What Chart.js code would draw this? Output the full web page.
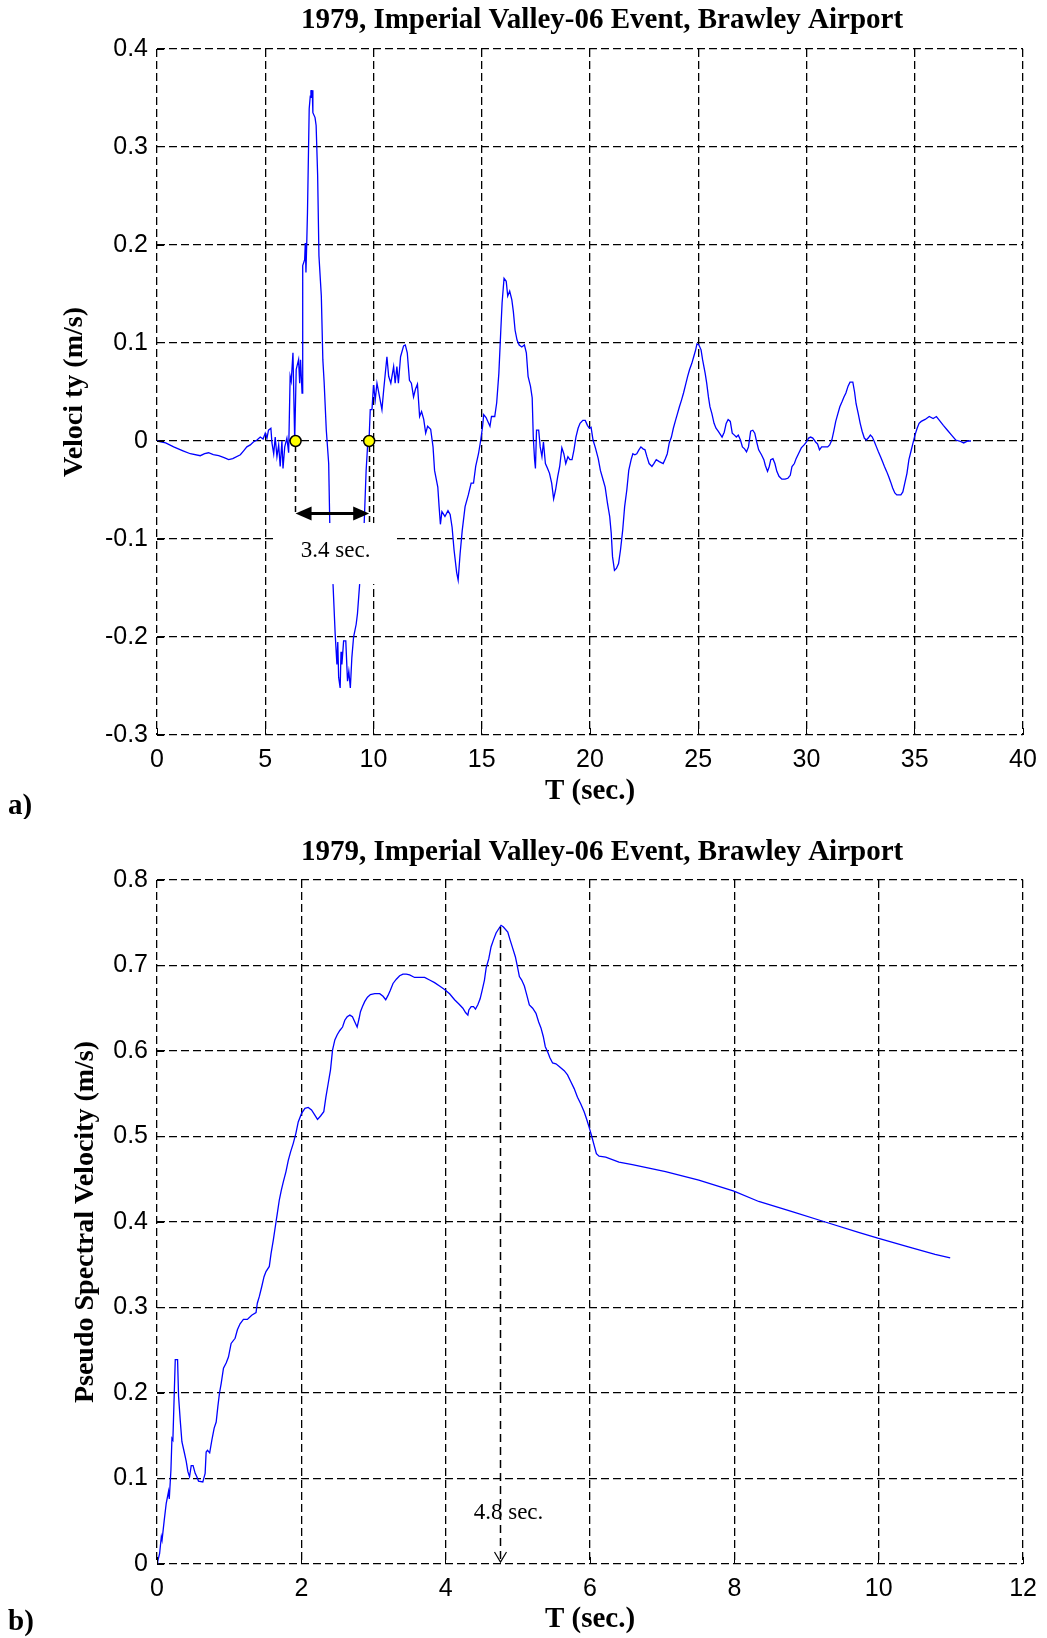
<!DOCTYPE html>
<html>
<head>
<meta charset="utf-8">
<title>Imperial Valley-06, Brawley Airport</title>
<script src="https://cdn.jsdelivr.net/npm/chart.js@4.4.1/dist/chart.umd.min.js"></script>
<style>
  body { margin: 0; background: #fff; }
  #page { position: relative; width: 1047px; height: 1638px; }
  canvas { position: absolute; left: 0; }
  #velChart { top: 0; }
  #psvChart { top: 819px; }
</style>
</head>
<body>
<div id="page">
  <canvas id="velChart" width="1047" height="819"></canvas>
  <canvas id="psvChart" width="1047" height="819"></canvas>
</div>
<script>
const eventTitle = "1979, Imperial Valley-06 Event, Brawley Airport";

// ground velocity record: time (s) / velocity (m/s)
const timeSec = [
  0, 0.4, 0.77, 1.2, 1.54, 2.0, 2.2, 2.38, 2.6, 2.85,
  3.1, 3.31, 3.5, 3.85, 4.0, 4.15, 4.31, 4.45, 4.62, 4.77,
  4.9, 5.0, 5.08, 5.15, 5.26, 5.31, 5.39, 5.46, 5.54, 5.62,
  5.69, 5.77, 5.82, 5.9, 6.0, 6.08, 6.15, 6.2, 6.28, 6.36,
  6.43, 6.54, 6.59, 6.63, 6.7, 6.72, 6.74, 6.82, 6.85, 6.88,
  6.92, 6.95, 7.03, 7.08, 7.11, 7.14, 7.17, 7.2, 7.3, 7.35,
  7.42, 7.48, 7.59, 7.66, 7.72, 7.82, 7.93, 7.98, 8.05, 8.13,
  8.23, 8.31, 8.35, 8.39, 8.46, 8.5, 8.54, 8.62, 8.72, 8.8,
  8.86, 8.93, 9.0, 9.08, 9.2, 9.26, 9.36, 9.45, 9.57, 9.66,
  9.74, 9.8, 9.85, 9.93, 10.0, 10.08, 10.16, 10.28, 10.39, 10.47,
  10.62, 10.7, 10.8, 10.93, 11.0, 11.08, 11.15, 11.25, 11.39, 11.47,
  11.56, 11.66, 11.75, 11.85, 11.94, 12.03, 12.13, 12.22, 12.32, 12.41,
  12.5, 12.64, 12.75, 12.82, 12.97, 13.03, 13.09, 13.16, 13.3, 13.44,
  13.54, 13.63, 13.72, 13.84, 13.91, 14.0, 14.1, 14.23, 14.38, 14.51,
  14.62, 14.72, 14.85, 14.94, 15.04, 15.09, 15.2, 15.38, 15.45, 15.6,
  15.69, 15.79, 15.88, 15.94, 16.03, 16.13, 16.2, 16.29, 16.39, 16.46,
  16.54, 16.63, 16.73, 16.85, 16.97, 17.06, 17.14, 17.25, 17.33, 17.38,
  17.44, 17.48, 17.53, 17.63, 17.7, 17.78, 17.85, 17.94, 18.04, 18.13,
  18.23, 18.32, 18.41, 18.51, 18.6, 18.7, 18.79, 18.88, 18.98, 19.07,
  19.17, 19.26, 19.35, 19.45, 19.54, 19.67, 19.78, 19.88, 19.97, 20.05,
  20.14, 20.25, 20.38, 20.48, 20.61, 20.7, 20.81, 20.91, 20.98, 21.04,
  21.13, 21.22, 21.32, 21.41, 21.51, 21.6, 21.7, 21.79, 21.9, 21.98,
  22.07, 22.16, 22.26, 22.35, 22.45, 22.54, 22.63, 22.73, 22.86, 22.95,
  23.06, 23.2, 23.38, 23.48, 23.57, 23.66, 23.76, 23.85, 23.95, 24.04,
  24.13, 24.23, 24.32, 24.41, 24.51, 24.6, 24.7, 24.79, 24.88, 24.94,
  25.03, 25.13, 25.2, 25.32, 25.39, 25.47, 25.54, 25.63, 25.73, 25.82,
  25.92, 26.1, 26.2, 26.29, 26.38, 26.48, 26.57, 26.67, 26.76, 26.85,
  26.95, 27.04, 27.14, 27.23, 27.32, 27.42, 27.52, 27.61, 27.7, 27.79,
  27.92, 28.03, 28.1, 28.2, 28.28, 28.35, 28.45, 28.54, 28.63, 28.73,
  28.86, 29.01, 29.14, 29.25, 29.33, 29.44, 29.52, 29.63, 29.76, 29.89,
  30.0, 30.1, 30.19, 30.29, 30.42, 30.51, 30.6, 30.7, 30.79, 30.98,
  31.07, 31.17, 31.26, 31.35, 31.45, 31.54, 31.64, 31.73, 31.82, 31.92,
  32.01, 32.14, 32.22, 32.29, 32.39, 32.48, 32.57, 32.67, 32.76, 32.85,
  32.95, 33.04, 33.14, 33.23, 33.32, 33.42, 33.51, 33.6, 33.7, 33.79,
  33.89, 33.98, 34.08, 34.17, 34.36, 34.45, 34.54, 34.64, 34.73, 34.82,
  34.92, 35.01, 35.11, 35.2, 35.3, 35.48, 35.67, 35.85, 36.0, 36.14,
  36.32, 36.51, 36.7, 36.89, 37.07, 37.26, 37.45, 37.6
];
const velocity = [
  0, -0.002, -0.006, -0.010, -0.013, -0.015, -0.013, -0.012, -0.014, -0.015,
  -0.017, -0.019, -0.018, -0.014, -0.010, -0.006, -0.004, -0.001, 0.001, 0.004,
  0.002, 0.008, 0.003, 0.011, 0.013, -0.002, -0.013, 0.004, -0.016, -0.004,
  -0.026, 0.000, -0.028, -0.006, 0.003, -0.012, 0.066, 0.061, 0.090, 0.000,
  0.073, 0.083, 0.059, 0.083, 0.049, 0.120, 0.179, 0.185, 0.202, 0.172,
  0.205, 0.233, 0.339, 0.352, 0.358, 0.350, 0.358, 0.335, 0.330, 0.322,
  0.271, 0.189, 0.148, 0.083, 0.060, 0.011, -0.023, -0.084, -0.120, -0.146,
  -0.197, -0.228, -0.205, -0.241, -0.252, -0.215, -0.228, -0.204, -0.204, -0.245,
  -0.235, -0.252, -0.221, -0.200, -0.187, -0.176, -0.146, -0.120, -0.084, -0.030,
  0.000, 0.004, 0.032, 0.032, 0.057, 0.042, 0.059, 0.045, 0.032, 0.052,
  0.086, 0.066, 0.059, 0.076, 0.059, 0.076, 0.059, 0.086, 0.097, 0.098,
  0.090, 0.062, 0.059, 0.045, 0.053, 0.058, 0.025, 0.030, 0.022, 0.008,
  0.015, 0.012, -0.006, -0.030, -0.047, -0.067, -0.085, -0.072, -0.077, -0.071,
  -0.075, -0.088, -0.111, -0.134, -0.142, -0.115, -0.091, -0.067, -0.055, -0.043,
  -0.043, -0.026, -0.013, -0.001, 0.015, 0.027, 0.024, 0.015, 0.025, 0.025,
  0.039, 0.069, 0.113, 0.141, 0.166, 0.163, 0.148, 0.153, 0.144, 0.132,
  0.113, 0.103, 0.098, 0.096, 0.098, 0.090, 0.066, 0.056, 0.044, 0.004,
  -0.019, -0.028, 0.011, 0.011, -0.006, -0.016, -0.001, -0.023, -0.028, -0.033,
  -0.043, -0.059, -0.050, -0.036, -0.026, -0.007, -0.013, -0.023, -0.016, -0.019,
  -0.019, -0.009, 0.004, 0.013, 0.018, 0.021, 0.021, 0.016, 0.013, 0.014,
  0.001, -0.007, -0.018, -0.030, -0.040, -0.047, -0.064, -0.077, -0.094, -0.118,
  -0.132, -0.130, -0.125, -0.111, -0.091, -0.067, -0.050, -0.030, -0.019, -0.013,
  -0.014, -0.013, -0.009, -0.006, -0.008, -0.009, -0.016, -0.023, -0.026, -0.023,
  -0.019, -0.021, -0.023, -0.018, -0.013, -0.002, 0.004, 0.013, 0.021, 0.028,
  0.035, 0.042, 0.049, 0.057, 0.066, 0.073, 0.079, 0.086, 0.093, 0.099,
  0.098, 0.093, 0.083, 0.069, 0.059, 0.045, 0.035, 0.028, 0.018, 0.013,
  0.010, 0.004, 0.009, 0.018, 0.022, 0.020, 0.008, 0.006, 0.004, 0.006,
  0.001, -0.006, -0.008, -0.011, -0.006, 0.010, 0.011, 0.008, -0.001, -0.009,
  -0.014, -0.019, -0.025, -0.031, -0.026, -0.019, -0.018, -0.023, -0.031, -0.036,
  -0.039, -0.039, -0.038, -0.035, -0.026, -0.023, -0.018, -0.013, -0.007, -0.004,
  -0.001, 0.003, 0.004, 0.003, -0.001, -0.003, -0.009, -0.006, -0.006, -0.006,
  -0.004, 0.001, 0.010, 0.020, 0.028, 0.035, 0.040, 0.045, 0.049, 0.056,
  0.060, 0.060, 0.050, 0.038, 0.028, 0.018, 0.010, 0.003, 0.001, 0.003,
  0.006, 0.004, -0.001, -0.006, -0.011, -0.016, -0.021, -0.026, -0.031, -0.036,
  -0.042, -0.048, -0.053, -0.055, -0.055, -0.052, -0.043, -0.033, -0.019, -0.011,
  -0.002, 0.006, 0.013, 0.018, 0.020, 0.022, 0.025, 0.023, 0.025, 0.021,
  0.016, 0.011, 0.006, 0.001, 0.000, -0.002, 0.000, 0.000
];

// zero crossings around the main velocity pulse
const crossTimes = [6.4, 9.8];
const crossLevels = [0, 0];

const velTicksX = [0, 5, 10, 15, 20, 25, 30, 35, 40];
const velTicksY = [-0.3, -0.2, -0.1, 0, 0.1, 0.2, 0.3, 0.4];

// pseudo spectral velocity: period (s) / PSV (m/s)
const periods = [
  0, 0.01, 0.036, 0.06, 0.07, 0.1, 0.128, 0.16, 0.17, 0.193,
  0.207, 0.22, 0.253, 0.285, 0.299, 0.322, 0.345, 0.377, 0.405, 0.428,
  0.451, 0.474, 0.5, 0.529, 0.552, 0.575, 0.635, 0.667, 0.681, 0.7,
  0.73, 0.76, 0.792, 0.82, 0.843, 0.866, 0.889, 0.921, 0.958, 0.99,
  1.027, 1.082, 1.114, 1.151, 1.197, 1.252, 1.312, 1.372, 1.39, 1.418,
  1.45, 1.483, 1.51, 1.556, 1.58, 1.612, 1.64, 1.667, 1.695, 1.722,
  1.75, 1.787, 1.819, 1.851, 1.888, 1.925, 1.957, 2.003, 2.05, 2.095,
  2.141, 2.187, 2.224, 2.266, 2.311, 2.34, 2.372, 2.404, 2.432, 2.464,
  2.497, 2.533, 2.571, 2.602, 2.635, 2.672, 2.708, 2.741, 2.773, 2.8,
  2.819, 2.847, 2.879, 2.916, 2.957, 3.017, 3.086, 3.132, 3.169, 3.201,
  3.233, 3.27, 3.316, 3.362, 3.408, 3.454, 3.5, 3.569, 3.639, 3.708,
  3.777, 3.846, 3.915, 3.984, 4.054, 4.123, 4.183, 4.238, 4.275, 4.307,
  4.321, 4.353, 4.385, 4.413, 4.445, 4.477, 4.505, 4.537, 4.56, 4.597,
  4.629, 4.662, 4.698, 4.735, 4.767, 4.8, 4.86, 4.892, 4.929, 4.966,
  4.998, 5.021, 5.053, 5.09, 5.122, 5.159, 5.205, 5.251, 5.288, 5.32,
  5.352, 5.38, 5.412, 5.444, 5.481, 5.527, 5.573, 5.642, 5.688, 5.734,
  5.78, 5.826, 5.872, 5.918, 5.95, 5.987, 6.024, 6.056, 6.088, 6.125,
  6.217, 6.401, 6.586, 6.816, 7.046, 7.276, 7.507, 7.994, 8.337, 8.8,
  9.259, 9.72, 9.987, 10.41, 10.78, 10.99
];
const psv = [
  0, 0.003, 0.012, 0.032, 0.028, 0.051, 0.071, 0.085, 0.076, 0.110,
  0.147, 0.145, 0.239, 0.239, 0.196, 0.168, 0.143, 0.131, 0.120, 0.108,
  0.102, 0.115, 0.115, 0.106, 0.102, 0.097, 0.096, 0.106, 0.131, 0.133,
  0.130, 0.145, 0.159, 0.166, 0.184, 0.200, 0.211, 0.229, 0.235, 0.242,
  0.258, 0.264, 0.274, 0.281, 0.286, 0.286, 0.291, 0.294, 0.305, 0.313,
  0.324, 0.336, 0.342, 0.348, 0.363, 0.379, 0.395, 0.410, 0.426, 0.437,
  0.447, 0.459, 0.472, 0.482, 0.492, 0.504, 0.517, 0.527, 0.533, 0.534,
  0.531, 0.525, 0.520, 0.524, 0.529, 0.546, 0.562, 0.578, 0.601, 0.613,
  0.619, 0.624, 0.628, 0.636, 0.640, 0.642, 0.640, 0.634, 0.628, 0.638,
  0.646, 0.652, 0.658, 0.663, 0.666, 0.667, 0.667, 0.664, 0.660, 0.665,
  0.671, 0.679, 0.684, 0.688, 0.690, 0.690, 0.689, 0.686, 0.686, 0.686,
  0.683, 0.680, 0.676, 0.672, 0.667, 0.660, 0.655, 0.650, 0.645, 0.642,
  0.648, 0.652, 0.652, 0.649, 0.654, 0.661, 0.671, 0.683, 0.697, 0.708,
  0.722, 0.730, 0.738, 0.743, 0.747, 0.745, 0.739, 0.730, 0.720, 0.710,
  0.697, 0.687, 0.683, 0.676, 0.666, 0.654, 0.650, 0.644, 0.634, 0.627,
  0.617, 0.605, 0.599, 0.592, 0.586, 0.585, 0.582, 0.577, 0.572, 0.564,
  0.556, 0.546, 0.538, 0.529, 0.521, 0.511, 0.500, 0.490, 0.480, 0.477,
  0.476, 0.470, 0.467, 0.463, 0.459, 0.454, 0.449, 0.436, 0.424, 0.412,
  0.400, 0.388, 0.381, 0.371, 0.362, 0.358
];

// period of the spectral peak
const peakPeriod = 4.76;
const peakPsv = 0.745;

const psvTicksX = [0, 2, 4, 6, 8, 10, 12];
const psvTicksY = [0, 0.1, 0.2, 0.3, 0.4, 0.5, 0.6, 0.7, 0.8];

const SERIF = '"Liberation Serif", "Times New Roman", serif';
const SANS = '"Liberation Sans", Arial, sans-serif';
const GRID_DASH = [8, 4];

function toPoints(xs, ys) {
  return xs.map((x, i) => ({ x: x, y: ys[i] }));
}

function align(px) {
  return Math.round(px - 0.5) + 0.5;
}

// title, inward tick marks and the panel letter
const frame = {
  id: 'frame',
  afterDraw(chart, args, opts) {
    const { ctx, chartArea: a, scales: { x, y } } = chart;
    ctx.save();
    ctx.strokeStyle = '#000';
    ctx.lineWidth = 1;
    ctx.beginPath();
    x.ticks.forEach(t => {
      const px = align(x.getPixelForValue(t.value));
      ctx.moveTo(px, a.bottom);
      ctx.lineTo(px, a.bottom - 7);
    });
    y.ticks.forEach(t => {
      const py = align(y.getPixelForValue(t.value));
      ctx.moveTo(a.left, py);
      ctx.lineTo(a.left + 7, py);
    });
    ctx.stroke();
    ctx.fillStyle = '#000';
    ctx.font = 'bold 29px ' + SERIF;
    ctx.textBaseline = 'middle';
    ctx.textAlign = 'center';
    ctx.fillText(eventTitle, (a.left + a.right) / 2 + 12, opts.titleY);
    ctx.textAlign = 'left';
    ctx.fillText(opts.tag, 8, opts.tagY);
    ctx.restore();
  }
};

function arrowHead(ctx, tipX, tipY, dir) {
  ctx.beginPath();
  ctx.moveTo(tipX, tipY);
  ctx.lineTo(tipX + dir * 16, tipY - 7);
  ctx.lineTo(tipX + dir * 16, tipY + 7);
  ctx.closePath();
  ctx.fill();
}

// duration bracket between the two zero crossings
const pulseNote = {
  id: 'pulseNote',
  afterDatasetDraw(chart, args) {
    if (args.index !== 1) return;
    const { ctx, scales: { x, y } } = chart;
    const [t0, t1] = crossTimes;
    const x0 = x.getPixelForValue(t0);
    const x1 = x.getPixelForValue(t1);
    const y0 = y.getPixelForValue(crossLevels[0]);
    const armY = y.getPixelForValue(-0.074);

    ctx.save();
    // blank panel behind the label
    const bx0 = x.getPixelForValue(5.46), bx1 = x.getPixelForValue(11.0);
    const by0 = y.getPixelForValue(-0.0837), by1 = y.getPixelForValue(-0.146);
    ctx.fillStyle = '#fff';
    ctx.fillRect(bx0, by0, bx1 - bx0, by1 - by0);

    ctx.strokeStyle = '#000';
    ctx.lineWidth = 1.5;
    ctx.setLineDash([6, 4]);
    ctx.beginPath();
    ctx.moveTo(align(x0), y0 + 5);
    ctx.lineTo(align(x0), armY);
    ctx.moveTo(align(x1), y0 + 5);
    ctx.lineTo(align(x1), y.getPixelForValue(-0.085));
    ctx.stroke();

    ctx.setLineDash([]);
    ctx.lineWidth = 3;
    ctx.beginPath();
    ctx.moveTo(x0 + 12, armY);
    ctx.lineTo(x1 - 12, armY);
    ctx.stroke();
    ctx.fillStyle = '#000';
    arrowHead(ctx, x0, armY, 1);
    arrowHead(ctx, x1, armY, -1);

    ctx.font = '23px ' + SERIF;
    ctx.textAlign = 'center';
    ctx.textBaseline = 'middle';
    ctx.fillText((t1 - t0).toFixed(1) + ' sec.', x.getPixelForValue(8.25), y.getPixelForValue(-0.112));
    ctx.restore();
  }
};

// drop line from the spectral peak to the period axis
const peakNote = {
  id: 'peakNote',
  afterDatasetsDraw(chart) {
    const { ctx, scales: { x, y } } = chart;
    const px = align(x.getPixelForValue(peakPeriod));
    const top = y.getPixelForValue(peakPsv);
    const bottom = y.getPixelForValue(0);
    ctx.save();
    ctx.strokeStyle = '#000';
    ctx.lineWidth = 1.5;
    ctx.setLineDash([8, 5]);
    ctx.beginPath();
    ctx.moveTo(px, top);
    ctx.lineTo(px, bottom - 2);
    ctx.stroke();
    ctx.setLineDash([]);
    ctx.lineWidth = 1.2;
    ctx.beginPath();
    ctx.moveTo(px - 6, bottom - 12);
    ctx.lineTo(px, bottom - 2);
    ctx.lineTo(px + 6, bottom - 12);
    ctx.stroke();
    ctx.fillStyle = '#000';
    ctx.font = '23px ' + SERIF;
    ctx.textAlign = 'center';
    ctx.textBaseline = 'middle';
    ctx.fillText(peakPeriod.toFixed(1) + ' sec.', px + 8, y.getPixelForValue(0.06));
    ctx.restore();
  }
};

function axisOptions(cfg) {
  const fmt = v => String(Math.round(v * 10) / 10);
  const grid = { color: '#000', lineWidth: 1.3, drawTicks: false };
  return {
    x: {
      type: 'linear',
      min: cfg.xTicks[0],
      max: cfg.xTicks[cfg.xTicks.length - 1],
      afterBuildTicks: s => { s.ticks = cfg.xTicks.map(v => ({ value: v })); },
      afterFit: s => { s.height = cfg.xHeight; },
      grid: grid,
      border: { display: false, dash: GRID_DASH },
      ticks: { color: '#000', font: { family: SANS, size: 25 }, padding: 10, maxRotation: 0, callback: fmt },
      title: {
        display: true, text: 'T (sec.)', color: '#000',
        font: { family: SERIF, size: 29, weight: 'bold' },
        padding: { top: 0, bottom: cfg.xTitleBottom }
      }
    },
    y: {
      type: 'linear',
      min: cfg.yTicks[0],
      max: cfg.yTicks[cfg.yTicks.length - 1],
      afterBuildTicks: s => { s.ticks = cfg.yTicks.map(v => ({ value: v })); },
      afterFit: s => { s.width = 157; },
      grid: grid,
      border: { display: false, dash: GRID_DASH },
      ticks: { color: '#000', font: { family: SANS, size: 25 }, padding: 9, callback: fmt },
      title: {
        display: true, text: cfg.yTitle, color: '#000',
        font: { family: SERIF, size: 28, weight: 'bold' },
        padding: { top: cfg.yTitleLeft, bottom: 0 }
      }
    }
  };
}

function baseOptions(cfg) {
  return {
    responsive: false,
    animation: false,
    devicePixelRatio: 1,
    layout: { padding: { left: 0, right: cfg.padRight, top: cfg.padTop, bottom: 0 } },
    plugins: {
      legend: { display: false },
      tooltip: { enabled: false },
      title: { display: false },
      frame: { tag: cfg.tag, tagY: cfg.tagY, titleY: cfg.titleY }
    },
    scales: axisOptions(cfg)
  };
}

new Chart(document.getElementById('velChart'), {
  type: 'scatter',
  data: {
    datasets: [
      {
        data: toPoints(crossTimes, crossLevels),
        order: 0,
        pointRadius: 5.5,
        pointBackgroundColor: '#ffff00',
        pointBorderColor: '#000',
        pointBorderWidth: 1.5,
        showLine: false
      },
      {
        data: toPoints(timeSec, velocity),
        order: 1,
        showLine: true,
        borderColor: '#0000ff',
        borderWidth: 1.3,
        pointRadius: 0,
        tension: 0
      }
    ]
  },
  options: baseOptions({
    xTicks: velTicksX, yTicks: velTicksY, yTitle: 'Veloci ty (m/s)',
    xHeight: 84, xTitleBottom: 10, yTitleLeft: 58, padRight: 24, padTop: 49,
    titleY: 21, tag: 'a)', tagY: 807
  }),
  plugins: [frame, pulseNote]
});

new Chart(document.getElementById('psvChart'), {
  type: 'scatter',
  data: {
    datasets: [{
      data: toPoints(periods, psv),
      showLine: true,
      borderColor: '#0000ff',
      borderWidth: 1.3,
      pointRadius: 0,
      tension: 0
    }]
  },
  options: baseOptions({
    xTicks: psvTicksX, yTicks: psvTicksY, yTitle: 'Pseudo Spectral Velocity (m/s)',
    xHeight: 74, xTitleBottom: 1, yTitleLeft: 69, padRight: 22, padTop: 61,
    titleY: 34, tag: 'b)', tagY: 804
  }),
  plugins: [frame, peakNote]
});
</script>
</body>
</html>
